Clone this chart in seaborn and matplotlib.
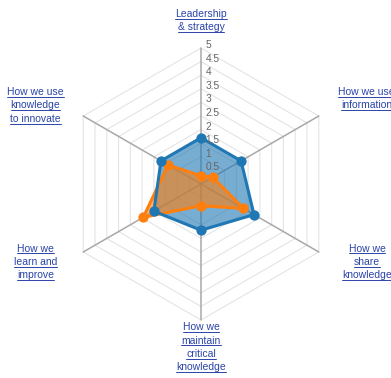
import numpy as np
import matplotlib
matplotlib.use("Agg")
import matplotlib.pyplot as plt
import seaborn as sns
from matplotlib.lines import Line2D

# ---- data ----
categories = [
    "Leadership\n& strategy",
    "How we use\ninformation",
    "How we\nshare\nknowledge",
    "How we\nmaintain\ncritical\nknowledge",
    "How we\nlearn and\nimprove",
    "How we use\nknowledge\nto innovate",
]
blue_values = [1.7, 1.7, 2.25, 1.7, 2.0, 1.7]
orange_values = [0.3, 0.5, 1.8, 0.8, 2.45, 1.4]
tick_values = [0.5, 1, 1.5, 2, 2.5, 3, 3.5, 4, 4.5, 5]
tick_labels = ["0.5", "1", "1.5", "2", "2.5", "3", "3.5", "4", "4.5", "5"]

# ---- style ----
sns.set_theme(style="white")
plt.rcParams['font.family'] = ['Liberation Sans', 'DejaVu Sans']

BLUE = "#1f77b4"
ORANGE = "#ff7f0e"
LINK = "#2a44a8"

W, H = 391, 378
fig = plt.figure(figsize=(W / 100, H / 100), dpi=100)
ax = fig.add_axes([0, 0, 1, 1])
cx, cy, ppu = 201, 184, 27.2
ax.set_xlim(-cx / ppu, (W - cx) / ppu)
ax.set_ylim(-(H - cy) / ppu, cy / ppu)
ax.axis('off')

n = len(categories)
ang = np.deg2rad(90 - 60 * np.arange(n))


def polar_xy(vals, close=False):
    v = np.asarray(vals, dtype=float)
    x, y = v * np.cos(ang), v * np.sin(ang)
    if close:
        x, y = np.append(x, x[0]), np.append(y, y[0])
    return x, y


# grid rings
for v in tick_values:
    x, y = polar_xy([v] * n, close=True)
    ax.plot(x, y, color="#e4e4e4", lw=0.8, zorder=1)
# angle lines
rmax = max(tick_values)
for a in ang:
    ax.plot([0, rmax * np.cos(a)], [0, rmax * np.sin(a)], color="#a8a8a8", lw=1.1, zorder=1.5)

# series
for vals, col, z in [(blue_values, BLUE, 2), (orange_values, ORANGE, 3)]:
    x, y = polar_xy(vals)
    ax.fill(x, y, color=col, alpha=0.6, lw=0, zorder=z)
for vals, col, z in [(orange_values, ORANGE, 4), (blue_values, BLUE, 5)]:
    xc, yc = polar_xy(vals, close=True)
    sns.lineplot(x=xc, y=yc, sort=False, estimator=None, color=col, lw=2.2, ax=ax, zorder=z)
for vals, col, z in [(orange_values, ORANGE, 6), (blue_values, BLUE, 7)]:
    x, y = polar_xy(vals)
    sns.scatterplot(x=x, y=y, s=55, color=col, edgecolor=col, linewidth=0, ax=ax, zorder=z)

# tick labels
for v, lab in zip(tick_values, tick_labels):
    ax.text(0.17, v + 0.11, lab, ha='left', va='center', fontsize=7.3, color="#666666", zorder=8)

# axis labels (link style, underlined)
label_pos = [(201, 17), (366.5, 95), (367, 251.5), (201, 330), (35.3, 251.5), (35.5, 95)]
line_step = 13.5
texts = []
for cat, (px, py) in zip(categories, label_pos):
    for i, line in enumerate(cat.split("\n")):
        t = fig.text(px / W, 1 - (py + i * line_step) / H, line, ha='center', va='baseline',
                     fontsize=7.5, color=LINK)
        texts.append(t)

fig.canvas.draw()
renderer = fig.canvas.get_renderer()
for t in texts:
    bb = t.get_window_extent(renderer)
    xpos, ypos = t.get_position()
    yline = ypos * H - 1.6
    fig.add_artist(Line2D([bb.x0 / W, bb.x1 / W], [yline / H, yline / H],
                          transform=fig.transFigure, color=LINK, lw=0.7))

fig.savefig("out.png", dpi=100)
